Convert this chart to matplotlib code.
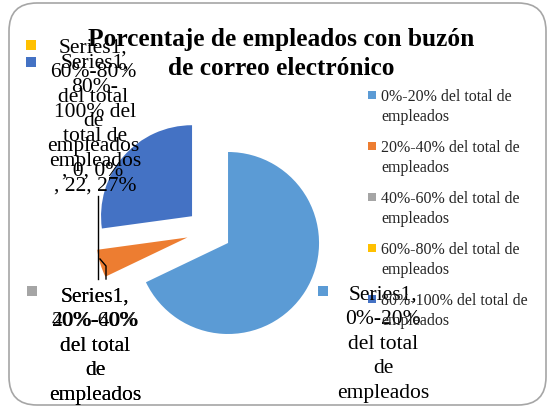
import matplotlib.pyplot as plt
from matplotlib.patches import FancyBboxPatch

# data
categories = ["0%-20% del total de empleados", "20%-40% del total de empleados",
              "40%-60% del total de empleados", "60%-80% del total de empleados",
              "80%-100% del total de empleados"]
legend_labels = ["0%-20% del total de\nempleados", "20%-40% del total de\nempleados",
                 "40%-60% del total de\nempleados", "60%-80% del total de\nempleados",
                 "80%-100% del total de\nempleados"]
values = [55, 4, 0, 0, 22]
colors = ["#5B9BD5", "#ED7D31", "#A5A5A5", "#FFC000", "#4472C4"]

# wrapped data label texts, as Excel drew them
label_wraps = [
    "Series1,\n0%-20%\ndel total\nde\nempleados\n, {v}, {p}%",
    "Series1,\n20%-40%\ndel total\nde\nempleados\n, {v}, {p}%",
    "Series1,\n40%-60%\ndel total\nde\nempleados\n, {v}, {p}%",
    "Series1,\n60%-80%\ndel total\nde\nempleados\n, {v}, {p}%",
    "Series1,\n80%-\n100% del\ntotal de\nempleados\n, {v}, {p}%",
]
# label anchor (x, first line y) and key marker position, in pixels from top-left
label_pos = [(383, 295), (95, 297), (95, 297), (93, 48), (95, 63)]
key_pos = [(323, 292), (32, 292), (32, 292), (31, 46), (31, 63)]

W, H = 547, 410
plt.rcParams['font.family'] = ['Liberation Serif', 'DejaVu Serif']

fig = plt.figure(figsize=(W / 100, H / 100), dpi=100)
ax = fig.add_axes([0, 0, 1, 1])

def Y(y):
    return H - y

# chart border
border = FancyBboxPatch((9, 4), W - 10, H - 8, boxstyle="round,pad=0,rounding_size=28",
                        fc='white', ec='#A6A6A6', lw=1.2, transform=ax.transData)
ax.add_patch(border)

# exploded pie
ax.pie(values, colors=colors, startangle=90, counterclock=False,
       radius=91, center=(209, Y(232)), explode=[22.5] * len(values),
       wedgeprops=dict(linewidth=0), frame=True)
ax.set_xlim(0, W)
ax.set_ylim(0, H)
ax.set_aspect('equal')
ax.axis('off')

# title
ax.text(281, Y(54), "Porcentaje de empleados con buzón\nde correo electrónico",
        ha='center', va='center', fontsize=18.3, fontweight='bold', linespacing=1.3)

# leader lines
ax.plot([98, 98], [Y(197), Y(280)], color='black', lw=1)
ax.plot([100, 106, 106], [Y(260), Y(267), Y(280)], color='black', lw=1)

# data labels with legend keys
total = sum(values)
for i, v in enumerate(values):
    pct = round(100 * v / total)
    lx, ly = label_pos[i]
    ax.text(lx, Y(ly) + 9, label_wraps[i].format(v=v, p=pct), ha='center', va='top',
            fontsize=15.5, linespacing=1.39)
    kx, ky = key_pos[i]
    ax.scatter([kx], [Y(ky)], marker='s', s=60, color=colors[i], linewidths=0)

# legend
for i, lab in enumerate(legend_labels):
    y = 96 + i * 51
    ax.scatter([372], [Y(y)], marker='s', s=35, color=colors[i], linewidths=0)
    ax.text(381, Y(y) + 7, lab, ha='left', va='top', fontsize=11.5, linespacing=1.3,
            color='#262626')

fig.savefig("out.png", dpi=100)
